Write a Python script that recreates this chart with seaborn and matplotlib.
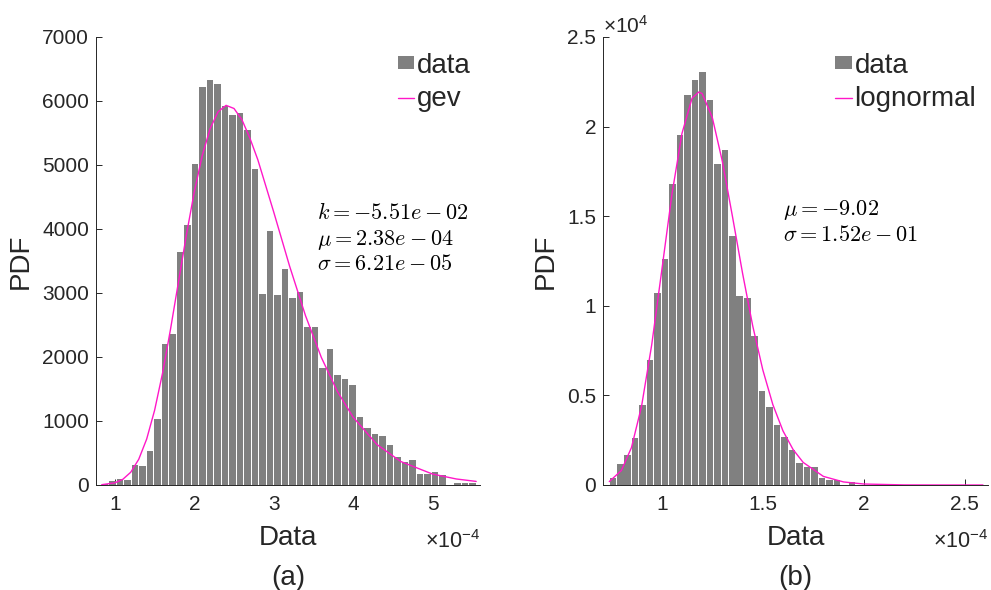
import numpy as np
import matplotlib
matplotlib.use("Agg")
import matplotlib.pyplot as plt
import seaborn as sns
from matplotlib.ticker import ScalarFormatter, MultipleLocator
from matplotlib.patches import Patch
from matplotlib.lines import Line2D
from matplotlib.transforms import ScaledTranslation

# ---------------- data (x in units of 1e-4) ----------------
left_bin_lo, left_bin_hi = 0.827, 5.553
left_heights = [21, 57, 99, 78, 312, 292, 531, 1031, 2198, 2365,
                3635, 4063, 5021, 6220, 6323, 6271, 5917, 5781, 5807, 5547,
                4943, 2990, 3969, 2969, 3370, 2917, 3016, 2469, 2469, 1823,
                2130, 1724, 1651, 1557, 1060, 896, 797, 771, 630, 443,
                365, 391, 177, 177, 203, 161, 0, 36, 36, 36]
gev_x = [0.834, 1.0, 1.1, 1.2, 1.3, 1.4, 1.5, 1.6, 1.7, 1.8, 1.9, 2.0, 2.1,
         2.2, 2.3, 2.4, 2.5, 2.6, 2.7, 2.8, 3.0, 3.2, 3.4, 3.6, 3.8, 4.0,
         4.3, 4.6, 5.0, 5.3, 5.55]
gev_y = [5, 34, 89, 200, 401, 717, 1167, 1747, 2431, 3169, 3905, 4582, 5148,
         5571, 5832, 5932, 5883, 5707, 5420, 5082, 4266, 3420, 2647, 1993, 1466,
         1060, 633, 367, 171, 94, 56]

right_bin_lo, right_bin_hi = 0.739, 2.588
right_heights = [0.039, 0.117, 0.169, 0.261, 0.449, 0.695, 1.071, 1.259, 1.678, 1.952,
                 2.175, 2.259, 2.305, 2.147, 1.793, 1.871, 1.389, 1.052, 1.045, 0.834,
                 0.527, 0.434, 0.337, 0.266, 0.196, 0.121, 0.099, 0.102, 0.037, 0.028,
                 0.028, 0.0, 0.017, 0, 0, 0, 0, 0, 0, 0,
                 0, 0, 0, 0, 0, 0, 0, 0, 0, 0]
logn_x = [0.74, 0.8, 0.85, 0.9, 0.95, 1.0, 1.05, 1.1, 1.15, 1.1832, 1.2, 1.25,
          1.3, 1.35, 1.4, 1.45, 1.5, 1.55, 1.6, 1.65, 1.7, 1.8, 1.9, 2.0,
          2.2, 2.4, 2.59]
logn_y = [0.019, 0.081, 0.209, 0.440, 0.781, 1.198, 1.620, 1.962, 2.159, 2.193,
          2.184, 2.051, 1.805, 1.498, 1.181, 0.889, 0.643, 0.448, 0.302, 0.198,
          0.126, 0.048, 0.017, 0.0055, 0.0005, 0.0, 0.0]

left_text = [r"$k=-5.51e-02$", r"$\mu=2.38e-04$", r"$\sigma=6.21e-05$"]
right_text = [r"$\mu=-9.02$", r"$\sigma=1.52e-01$"]

XS = 1e-4      # x unit
YS_R = 1e4     # right y unit

BAR = "#808080"
MAG = "#ff17c8"
AX = "#262626"

sns.set_style("ticks")
plt.rcParams["font.family"] = ["Liberation Sans", "DejaVu Sans"]
plt.rcParams["mathtext.fontset"] = "custom"
plt.rcParams["mathtext.rm"] = "Liberation Sans"
plt.rcParams["mathtext.it"] = "Liberation Sans:italic"
plt.rcParams["mathtext.bf"] = "Liberation Sans:bold"


class MFormatter(ScalarFormatter):
    def __call__(self, x, pos=None):
        v = x / 10 ** self.orderOfMagnitude
        if abs(v) < 1e-12:
            v = 0.0
        return f"{v:g}"


def make_fmt():
    f = MFormatter(useMathText=True, useOffset=False)
    f.set_powerlimits((-3, 4))
    return f


fig = plt.figure(figsize=(9.91, 5.90), dpi=100)
W, H = 991, 590


def add_ax(x0, x1, y0, y1):
    return fig.add_axes([x0 / W, 1 - y1 / H, (x1 - x0) / W, (y1 - y0) / H])


axL = add_ax(96, 480, 37, 485)
axR = add_ax(603, 988, 37, 485)


def style(ax):
    for s in ["top", "right"]:
        ax.spines[s].set_visible(False)
    for s in ["left", "bottom"]:
        ax.spines[s].set_color(AX)
        ax.spines[s].set_linewidth(0.7)
    ax.tick_params(direction="in", length=4, width=0.7, colors=AX, labelsize=15)
    ax.tick_params(axis="x", pad=7)
    ax.tick_params(axis="y", pad=5)
    ax.xaxis.set_major_formatter(make_fmt())
    ax.yaxis.set_major_formatter(make_fmt())
    ax.xaxis.get_offset_text().set_fontsize(15.5)
    ax.yaxis.get_offset_text().set_fontsize(15)
    ax.xaxis.get_offset_text().set_color(AX)
    ax.yaxis.get_offset_text().set_color(AX)
    ax.set_xlabel("Data", fontsize=20, color=AX, labelpad=8)
    ax.set_ylabel("PDF", fontsize=20, color=AX, labelpad=6)


LEG = dict(loc="upper left", frameon=False, fontsize=20, handlelength=0.6,
           handleheight=0.33, handletextpad=0.1, labelspacing=0.27,
           borderpad=0, borderaxespad=0)

# ---------- left panel ----------
nL = len(left_heights)
lw_ = (left_bin_hi - left_bin_lo) / nL
lc = left_bin_lo + lw_ * (np.arange(nL) + 0.5)
sns.histplot(x=lc * XS, weights=left_heights, bins=nL,
             binrange=(left_bin_lo * XS, left_bin_hi * XS), stat="count",
             color=BAR, alpha=1, edgecolor="none", shrink=0.88, ax=axL)
sns.lineplot(x=np.array(gev_x) * XS, y=gev_y, color=MAG, linewidth=1.0,
             estimator=None, sort=False, ax=axL)
axL.set_xlim(0.762 * XS, 5.598 * XS)
axL.set_ylim(0, 7000)
axL.xaxis.set_major_locator(MultipleLocator(1 * XS))
axL.yaxis.set_major_locator(MultipleLocator(1000))
style(axL)
for t, yb in zip(left_text, [0.5938, 0.5368, 0.4788]):
    axL.text(0.5755, yb, t, transform=axL.transAxes, fontsize=16,
             math_fontfamily="cm", va="baseline", ha="left", color="black")
axL.legend(handles=[Patch(facecolor=BAR, edgecolor="none"),
                    Line2D([], [], color=MAG, lw=1.0)],
           labels=["data", "gev"], bbox_to_anchor=(0.786, 0.965), **LEG)
axL.text(0.5, -0.2076, "(a)", transform=axL.transAxes, fontsize=20,
         ha="center", va="center", color=AX)

# ---------- right panel ----------
nR = len(right_heights)
rw_ = (right_bin_hi - right_bin_lo) / nR
rc = right_bin_lo + rw_ * (np.arange(nR) + 0.5)
sns.histplot(x=rc * XS, weights=np.array(right_heights) * YS_R, bins=nR,
             binrange=(right_bin_lo * XS, right_bin_hi * XS), stat="count",
             color=BAR, alpha=1, edgecolor="none", shrink=0.88, ax=axR)
sns.lineplot(x=np.array(logn_x) * XS, y=np.array(logn_y) * YS_R, color=MAG,
             linewidth=1.0, estimator=None, sort=False, ax=axR)
axR.set_xlim(0.709 * XS, 2.615 * XS)
axR.set_ylim(0, 2.5 * YS_R)
axR.xaxis.set_major_locator(MultipleLocator(0.5 * XS))
axR.yaxis.set_major_locator(MultipleLocator(0.5 * YS_R))
style(axR)
for t, yb in zip(right_text, [0.6027, 0.5453]):
    axR.text(0.4683, yb, t, transform=axR.transAxes, fontsize=16,
             math_fontfamily="cm", va="baseline", ha="left", color="black")
axR.legend(handles=[Patch(facecolor=BAR, edgecolor="none"),
                    Line2D([], [], color=MAG, lw=1.0)],
           labels=["data", "lognormal"], bbox_to_anchor=(0.603, 0.965), **LEG)
axR.text(0.5, -0.2076, "(b)", transform=axR.transAxes, fontsize=20,
         ha="center", va="center", color=AX)

# shift x offset texts down a bit (MATLAB places the exponent lower)
for ax in (axL, axR):
    ot = ax.xaxis.get_offset_text()
    ot.set_transform(ot.get_transform() + ScaledTranslation(0, -0.12, fig.dpi_scale_trans))

fig.savefig("out.png", dpi=100, facecolor="white")
